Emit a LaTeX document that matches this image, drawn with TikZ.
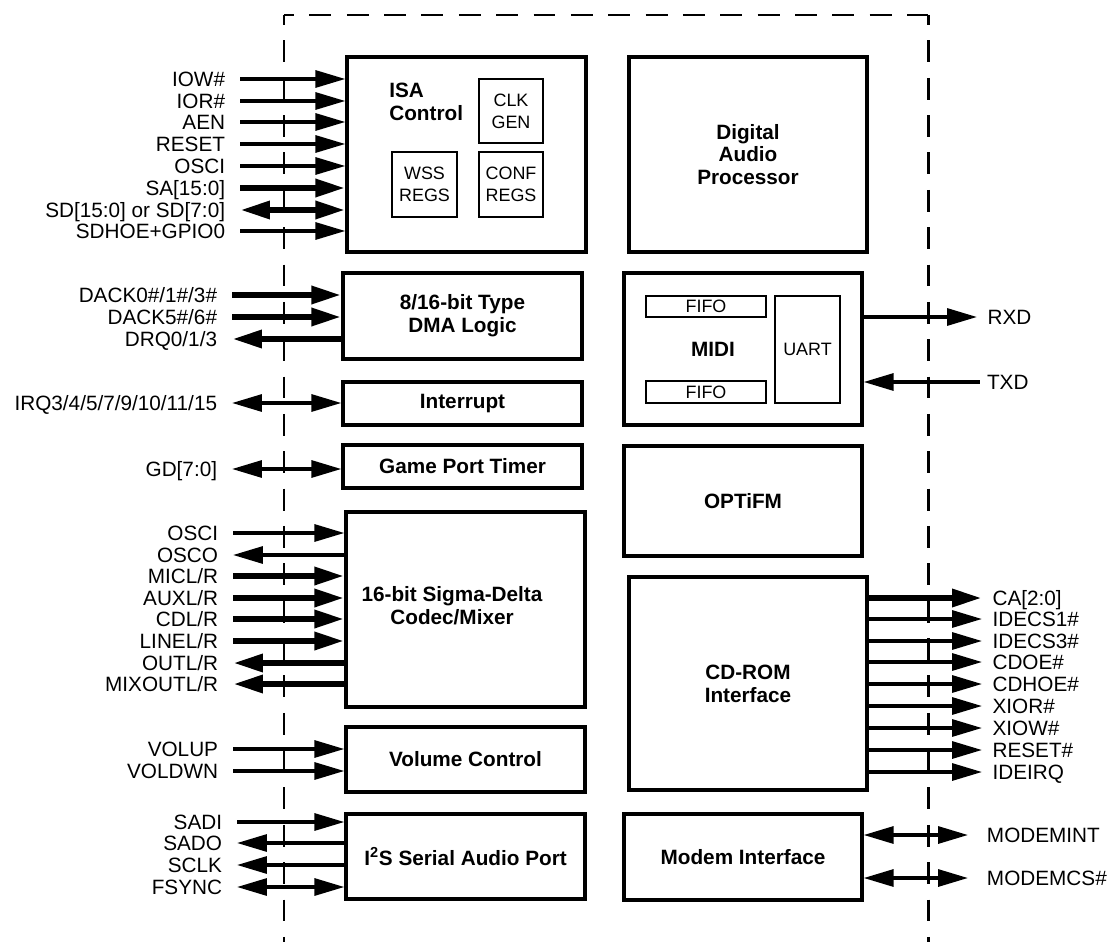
\documentclass[tikz,border=0pt]{standalone}
\usepackage{fontspec}
\setmainfont{Liberation Sans}
\usetikzlibrary{arrows.meta}
\tikzset{
    blk/.style={draw, line width=1.9pt, inner sep=0pt, align=center,
                font=\fontsize{11.8}{13}\selectfont\bfseries},
    subblk/.style={draw, line width=1.2pt, inner sep=0pt, align=center,
                   font=\fontsize{10.2}{12.4}\selectfont},
    blktxt/.style={inner sep=0pt, align=center,
                   font=\fontsize{11.8}{13}\selectfont\bfseries},
    pinl/.style={anchor=east, inner sep=0pt, outer xsep=8.5pt,
                 text height=8.4pt, text depth=0pt},
    pinr/.style={anchor=west, inner sep=0pt, outer xsep=6pt,
                 text height=8.4pt, text depth=0pt},
    sig/.style={line width=1.9pt},
    bus/.style={line width=3.6pt},
    frame/.style={line width=1.7pt, dash pattern=on 12.47pt off 8.79pt,
                  dash phase=6.8pt},
}

\begin{document}
\begin{tikzpicture}[x=0.02cm, y=-0.02cm, font=\fontsize{11.8}{13}\selectfont,
                    >={Triangle[length=17pt, width=9.6pt]}]
    \path[use as bounding box] (0,0) rectangle (1111,942);

    % chip outline
    \draw[frame] (284,15) -- (284,942);
    \draw[frame] (284,15) -- (928,15);
    \draw[frame] (928,15) -- (928,942);

    % left column
    \node[blk, minimum width=4.78cm, minimum height=3.9cm] (isa) at (466.5,154.5) {};
    \node[blktxt, anchor=west, align=left] (isalbl) at (389,101.5) {ISA\\Control};
    \node[subblk, minimum width=1.28cm, minimum height=1.28cm] (clk) at (511,111) {CLK\\GEN};
    \node[subblk, minimum width=1.3cm, minimum height=1.3cm] (wss) at (424.5,184.5) {WSS\\REGS};
    \node[subblk, minimum width=1.28cm, minimum height=1.3cm] (conf) at (511,184.5) {CONF\\REGS};
    \node[blk, minimum width=4.78cm, minimum height=1.72cm] (dma) at (462.5,316) {8/16-bit Type\\DMA Logic};
    \node[blk, minimum width=4.78cm, minimum height=0.86cm] (intr) at (462.5,403.5) {Interrupt};
    \node[blk, minimum width=4.78cm, minimum height=0.86cm] (game) at (462.5,466.5) {Game Port Timer};
    \node[blk, minimum width=4.78cm, minimum height=3.9cm] (codec) at (465.5,609.5) {};
    \node[blktxt] (codeclbl) at (452,606) {16-bit Sigma-Delta\\Codec/Mixer};
    \node[blk, minimum width=4.78cm, minimum height=1.3cm] (vol) at (465.5,759.5) {Volume Control};
    \node[blk, minimum width=4.78cm, minimum height=1.7cm] (i2s) at (465.5,856.5) {I\textsuperscript{2}S Serial Audio Port};

    % right column
    \node[blk, minimum width=4.76cm, minimum height=3.9cm] (dap) at (748,154.5) {Digital\\Audio\\Processor};
    \node[blk, minimum width=4.76cm, minimum height=3.04cm] (midi) at (743,349) {};
    \node[blktxt] (midilbl) at (713,349) {MIDI};
    \node[subblk, minimum width=2.4cm, minimum height=0.42cm] (fifoa) at (706,306.5) {FIFO};
    \node[subblk, minimum width=2.4cm, minimum height=0.44cm] (fifob) at (706,392) {FIFO};
    \node[subblk, minimum width=1.3cm, minimum height=2.14cm] (uart) at (807.5,349.5) {UART};
    \node[blk, minimum width=4.76cm, minimum height=2.2cm] (optifm) at (743,501) {OPTiFM};
    \node[blk, minimum width=4.76cm, minimum height=4.26cm] (cdrom) at (748,683.5) {CD-ROM\\Interface};
    \node[blk, minimum width=4.76cm, minimum height=1.72cm] (modem) at (743,857) {Modem Interface};

    % ISA bus
    \node[pinl] (iow) at (240,79) {IOW\#};
    \node[pinl] (ior) at (240,101) {IOR\#};
    \node[pinl] (aen) at (240,122) {AEN};
    \node[pinl] (reset) at (240,144) {RESET};
    \node[pinl] (osci) at (240,166) {OSCI};
    \node[pinl] (sa) at (240,188) {SA[15:0]};
    \node[pinl] (sd) at (240,210) {SD[15:0] or SD[7:0]};
    \node[pinl] (sdhoe) at (240,231) {SDHOE+GPIO0};
    \draw[sig, ->] (iow) -- (iow -| isa.west);
    \draw[sig, ->] (ior) -- (ior -| isa.west);
    \draw[sig, ->] (aen) -- (aen -| isa.west);
    \draw[sig, ->] (reset) -- (reset -| isa.west);
    \draw[sig, ->] (osci) -- (osci -| isa.west);
    \draw[bus, ->] (sa) -- (sa -| isa.west);
    \draw[bus, <->] (sd) -- (sd -| isa.west);
    \draw[sig, ->] (sdhoe) -- (sdhoe -| isa.west);

    % DMA, interrupt, game port
    \node[pinl] (dacka) at (232,295) {DACK0\#/1\#/3\#};
    \node[pinl] (dackb) at (232,317) {DACK5\#/6\#};
    \node[pinl] (drq) at (232,339) {DRQ0/1/3};
    \node[pinl] (irq) at (232,403) {IRQ3/4/5/7/9/10/11/15};
    \node[pinl] (gd) at (232,469) {GD[7:0]};
    \draw[bus, ->] (dacka) -- (dacka -| dma.west);
    \draw[bus, ->] (dackb) -- (dackb -| dma.west);
    \draw[bus, <-] (drq) -- (drq -| dma.west);
    \draw[sig, <->] (irq) -- (irq -| intr.west);
    \draw[sig, <->] (gd) -- (gd -| game.west);

    % codec
    \node[pinl] (oscin) at (233,533) {OSCI};
    \node[pinl] (osco) at (233,555) {OSCO};
    \node[pinl] (mic) at (233,576) {MICL/R};
    \node[pinl] (aux) at (233,598) {AUXL/R};
    \node[pinl] (cd) at (233,619) {CDL/R};
    \node[pinl] (line) at (233,641) {LINEL/R};
    \node[pinl] (out) at (233,663) {OUTL/R};
    \node[pinl] (mixout) at (233,684) {MIXOUTL/R};
    \draw[sig, ->] (oscin) -- (oscin -| codec.west);
    \draw[sig, <-] (osco) -- (osco -| codec.west);
    \draw[bus, ->] (mic) -- (mic -| codec.west);
    \draw[bus, ->] (aux) -- (aux -| codec.west);
    \draw[bus, ->] (cd) -- (cd -| codec.west);
    \draw[bus, ->] (line) -- (line -| codec.west);
    \draw[bus, <-] (out) -- (out -| codec.west);
    \draw[bus, <-] (mixout) -- (mixout -| codec.west);

    % volume and serial port
    \node[pinl] (volup) at (233,749) {VOLUP};
    \node[pinl] (voldwn) at (233,771) {VOLDWN};
    \draw[sig, ->] (volup) -- (volup -| vol.west);
    \draw[sig, ->] (voldwn) -- (voldwn -| vol.west);
    \node[pinl] (sadi) at (237,822) {SADI};
    \node[pinl] (sado) at (237,843) {SADO};
    \node[pinl] (sclk) at (237,865) {SCLK};
    \node[pinl] (fsync) at (237,887) {FSYNC};
    \draw[sig, ->] (sadi) -- (sadi -| i2s.west);
    \draw[sig, <-] (sado) -- (sado -| i2s.west);
    \draw[sig, <-] (sclk) -- (sclk -| i2s.west);
    \draw[sig, <->] (fsync) -- (fsync -| i2s.west);

    % MIDI port
    \node[pinr] (rxd) at (977,317) {RXD};
    \node[pinr, outer xsep=4pt] (txd) at (980,382) {TXD};
    \draw[sig, ->] (midi.east |- rxd) -- (rxd);
    \draw[sig, <-] (midi.east |- txd) -- (txd);

    % CD-ROM port
    \node[pinr] (ca) at (982,598) {CA[2:0]};
    \node[pinr] (idecsa) at (982,619) {IDECS1\#};
    \node[pinr] (idecsb) at (982,641) {IDECS3\#};
    \node[pinr] (cdoe) at (982,662) {CDOE\#};
    \node[pinr] (cdhoe) at (982,684) {CDHOE\#};
    \node[pinr] (xior) at (982,706) {XIOR\#};
    \node[pinr] (xiow) at (982,728) {XIOW\#};
    \node[pinr] (resetn) at (982,750) {RESET\#};
    \node[pinr] (ideirq) at (982,772) {IDEIRQ};
    \draw[bus, ->] (cdrom.east |- ca) -- (ca);
    \draw[sig, ->] (cdrom.east |- idecsa) -- (idecsa);
    \draw[sig, ->] (cdrom.east |- idecsb) -- (idecsb);
    \draw[sig, ->] (cdrom.east |- cdoe) -- (cdoe);
    \draw[sig, ->] (cdrom.east |- cdhoe) -- (cdhoe);
    \draw[sig, ->] (cdrom.east |- xior) -- (xior);
    \draw[sig, ->] (cdrom.east |- xiow) -- (xiow);
    \draw[sig, ->] (cdrom.east |- resetn) -- (resetn);
    \draw[sig, ->] (cdrom.east |- ideirq) -- (ideirq);

    % modem port
    \node[pinr, outer xsep=10.8pt] (modemint) at (968,835) {MODEMINT};
    \node[pinr, outer xsep=10.8pt] (modemcs) at (968,878) {MODEMCS\#};
    \draw[sig, <->] (modem.east |- modemint) -- (modemint);
    \draw[sig, <->] (modem.east |- modemcs) -- (modemcs);
\end{tikzpicture}
\end{document}
